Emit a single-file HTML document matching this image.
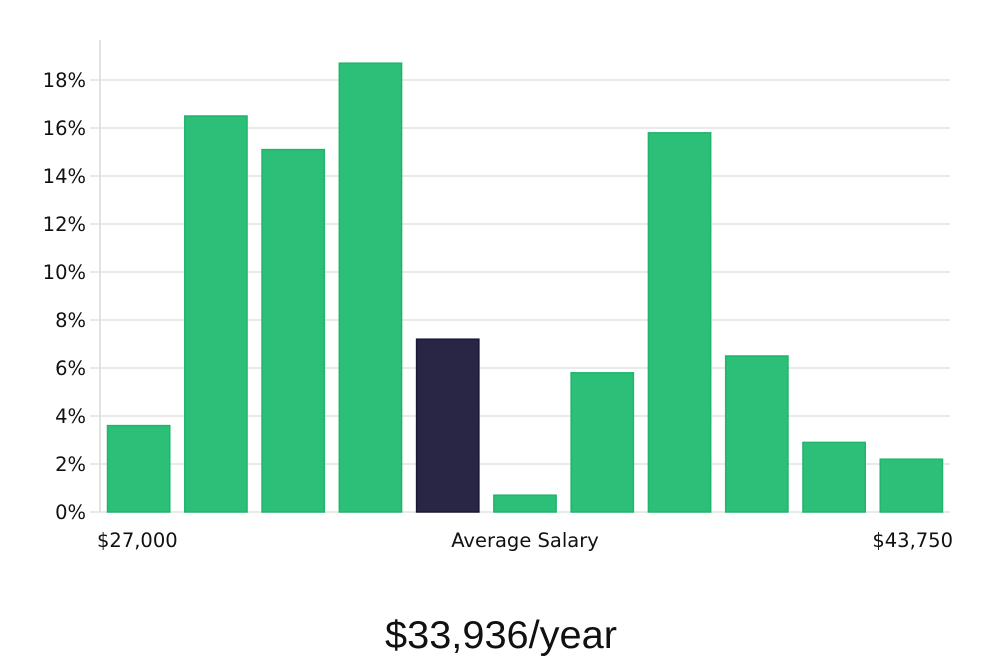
<!DOCTYPE html>
<html><head><meta charset="utf-8"><style>
body{margin:0;background:#fff;width:1000px;height:660px;overflow:hidden}
svg text{font-family:"DejaVu Sans","Liberation Sans",sans-serif;fill:#111}
</style></head><body>
<svg id="chart" width="1000" height="660" xmlns="http://www.w3.org/2000/svg">
<g id="grid"></g>
<g id="bars"></g>
<line x1="100" y1="40" x2="100" y2="512" stroke="#d8d8d8" stroke-width="1.5"/>
<g id="ylabels"></g>
<text x="97" y="547" font-size="19.5">$27,000</text>
<text x="525" y="547" font-size="19.5" text-anchor="middle">Average Salary</text>
<text x="953" y="547" font-size="19.5" text-anchor="end">$43,750</text>
<text x="501" y="648" font-size="39" text-anchor="middle" style="font-family:'Liberation Sans',sans-serif;font-weight:300" textLength="232" lengthAdjust="spacingAndGlyphs">$33,936/year</text>
</svg>
<script>
const values=[3.6,16.5,15.1,18.7,7.2,0.7,5.8,15.8,6.5,2.9,2.2];
const highlightIndex=4;
const yTicks=[0,2,4,6,8,10,12,14,16,18];
const ns="http://www.w3.org/2000/svg";
const x0=100,x1=950,yBase=512,pxPer=24;
const band=(x1-x0)/values.length;
const y=v=>yBase-v*pxPer;
const grid=document.getElementById('grid'),yl=document.getElementById('ylabels'),bars=document.getElementById('bars');
yTicks.forEach(t=>{
 const l=document.createElementNS(ns,'line');
 
 
 l.setAttribute('x1',90);l.setAttribute('x2',x1);l.setAttribute('y1',y(t));l.setAttribute('y2',y(t));
 l.setAttribute('stroke','#dddddd');l.setAttribute('stroke-width','1.2');grid.appendChild(l);
 const tx=document.createElementNS(ns,'text');
 
 
 tx.setAttribute('x',86);tx.setAttribute('y',y(t)+7);tx.setAttribute('text-anchor','end');tx.setAttribute('font-size','19.5');
 tx.textContent=t+'%';yl.appendChild(tx);
});
values.forEach((v,i)=>{
 const r=document.createElementNS(ns,'rect');
 
 
 r.setAttribute('x',x0+i*band+7.5);r.setAttribute('width',band-15);
 r.setAttribute('y',y(v));r.setAttribute('height',v*pxPer);
 const hi=i===highlightIndex;
 r.setAttribute('fill',hi?'#292545':'#2bbf78');
 r.setAttribute('stroke',hi?'#1a1733':'#22b46c');r.setAttribute('stroke-width','1.5');
 bars.appendChild(r);
});
</script>
</body></html>
